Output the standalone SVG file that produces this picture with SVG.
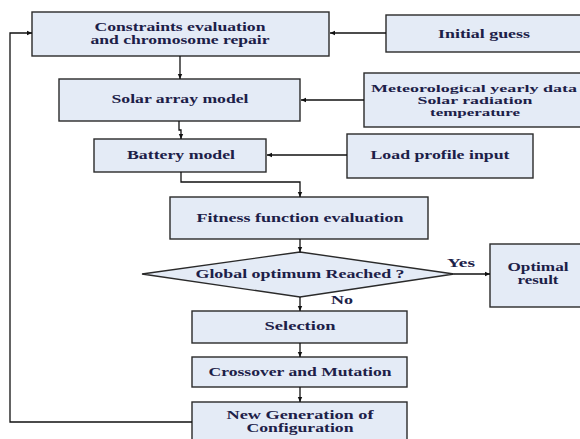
<svg xmlns="http://www.w3.org/2000/svg" width="580" height="439" viewBox="0 0 580 439">
<style>
.box{fill:#E4EBF6;stroke:#2a2a2a;stroke-width:1.4}
.t{font-family:"Liberation Serif","Times New Roman",serif;font-weight:bold;font-size:12.5px;fill:#1c2048;text-anchor:middle}
.m{font-size:11.5px}
.s{font-size:10.8px}
.c{fill:none;stroke:#111;stroke-width:1.3}
</style>
<defs>
<marker id="ah" markerWidth="6" markerHeight="6" refX="5" refY="3" orient="auto" markerUnits="userSpaceOnUse">
<path d="M0,0.8 L5,3 L0,5.2 Z" fill="#111"/>
</marker>
</defs>
<rect width="580" height="439" fill="#fff"/>
<g id="constraints">
<rect class="box" x="32" y="12" width="297" height="44"/>
<text class="t m" x="180" y="31" textLength="171" lengthAdjust="spacingAndGlyphs">Constraints evaluation</text>
<text class="t m" x="180" y="44" textLength="179" lengthAdjust="spacingAndGlyphs">and chromosome repair</text>
</g>
<g id="initial">
<rect class="box" x="386" y="15" width="200" height="37"/>
<text class="t" x="484" y="38" textLength="92" lengthAdjust="spacingAndGlyphs">Initial guess</text>
</g>
<g id="solar">
<rect class="box" x="59" y="79" width="241" height="42"/>
<text class="t" x="180" y="103" textLength="137" lengthAdjust="spacingAndGlyphs">Solar array model</text>
</g>
<g id="meteo">
<rect class="box" x="364" y="73" width="222" height="54"/>
<text class="t s" x="474" y="92" textLength="206" lengthAdjust="spacingAndGlyphs">Meteorological yearly data</text>
<text class="t s" x="475" y="104" textLength="115" lengthAdjust="spacingAndGlyphs">Solar radiation</text>
<text class="t s" x="475" y="116" textLength="90" lengthAdjust="spacingAndGlyphs">temperature</text>
</g>
<g id="battery">
<rect class="box" x="94" y="139" width="172" height="33"/>
<text class="t" x="181" y="159" textLength="108" lengthAdjust="spacingAndGlyphs">Battery model</text>
</g>
<g id="load">
<rect class="box" x="347" y="134" width="186" height="44"/>
<text class="t" x="440" y="159" textLength="139" lengthAdjust="spacingAndGlyphs">Load profile input</text>
</g>
<g id="fitness">
<rect class="box" x="170" y="197" width="258" height="42"/>
<text class="t" x="300" y="222" textLength="207" lengthAdjust="spacingAndGlyphs">Fitness function evaluation</text>
</g>
<g id="decision">
<polygon class="box" points="142,274 300,252 454,274 300,297"/>
<text class="t" x="300" y="278" textLength="209" lengthAdjust="spacingAndGlyphs">Global optimum Reached ?</text>
</g>
<g id="optimal">
<rect class="box" x="490" y="244" width="96" height="63"/>
<text class="t m" x="538" y="271" textLength="61" lengthAdjust="spacingAndGlyphs">Optimal</text>
<text class="t m" x="538" y="284" textLength="41" lengthAdjust="spacingAndGlyphs">result</text>
</g>
<g id="selection">
<rect class="box" x="192" y="311" width="215" height="32"/>
<text class="t" x="300" y="330" textLength="71" lengthAdjust="spacingAndGlyphs">Selection</text>
</g>
<g id="crossover">
<rect class="box" x="192" y="357" width="215" height="30"/>
<text class="t" x="300" y="376" textLength="183" lengthAdjust="spacingAndGlyphs">Crossover and Mutation</text>
</g>
<g id="newgen">
<rect class="box" x="192" y="402" width="215" height="45"/>
<text class="t m" x="300" y="419" textLength="147" lengthAdjust="spacingAndGlyphs">New Generation of</text>
<text class="t m" x="300" y="432" textLength="107" lengthAdjust="spacingAndGlyphs">Configuration</text>
</g>
<g id="connectors">
<path class="c" d="M386,33 H330" marker-end="url(#ah)"/>
<path class="c" d="M180,56 V79" marker-end="url(#ah)"/>
<path class="c" d="M364,100 H301" marker-end="url(#ah)"/>
<path class="c" d="M179,121 V130 H181 V139" marker-end="url(#ah)"/>
<path class="c" d="M347,155 H267" marker-end="url(#ah)"/>
<path class="c" d="M181,172 V182 H300 V197" marker-end="url(#ah)"/>
<path class="c" d="M300,239 V252" marker-end="url(#ah)"/>
<path class="c" d="M454,274 H490" marker-end="url(#ah)"/>
<path class="c" d="M300,297 V311" marker-end="url(#ah)"/>
<path class="c" d="M300,343 V357" marker-end="url(#ah)"/>
<path class="c" d="M300,387 V402" marker-end="url(#ah)"/>
<path class="c" d="M192,422 H10 V33 H32" marker-end="url(#ah)"/>
<text class="t" x="461" y="267" textLength="28" lengthAdjust="spacingAndGlyphs">Yes</text>
<text class="t" x="342" y="304" textLength="22" lengthAdjust="spacingAndGlyphs">No</text>
</g>
</svg>
